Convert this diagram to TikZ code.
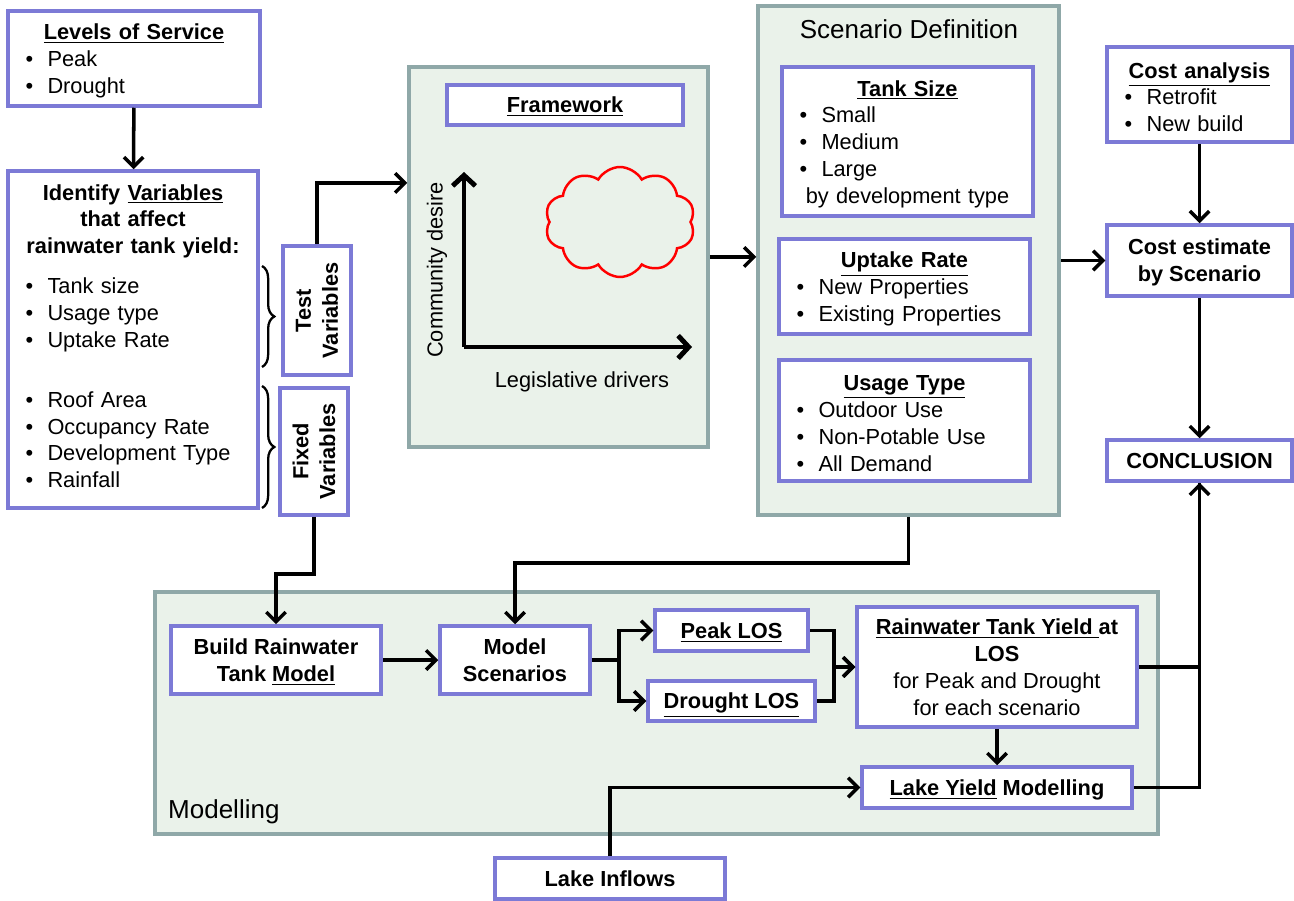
\documentclass[tikz,border=0pt]{standalone}
\usepackage{fontspec}
\setmainfont{Liberation Sans}
\usetikzlibrary{arrows.meta,shapes.symbols,decorations.pathreplacing,positioning}

\definecolor{boxline}{RGB}{124,122,214}
\definecolor{panelfill}{RGB}{234,242,234}
\definecolor{panelline}{RGB}{143,168,168}

\newcommand{\itm}[1]{\hspace*{10pt}\makebox[12.5pt][l]{\textbullet}#1}
\newcommand{\ctr}[1]{\makebox[\linewidth]{#1}}

\tikzset{
  wh/.style 2 args={minimum width=#1*0.02cm,minimum height=#2*0.02cm},
  frame/.style 2 args={draw=boxline,line width=2pt,fill=white,inner sep=0pt,wh={#1}{#2}},
  box/.style 2 args={frame={#1}{#2},text depth=0pt,align=center},
  lbox/.style 2 args={frame={#1}{#2},text height=12pt,text width=#1*0.02cm,align=left},
  panel/.style 2 args={draw=panelline,fill=panelfill,line width=2pt,inner sep=0pt,wh={#1}{#2}},
  flow/.style={-{Straight Barb[length=5.5pt,width=11pt]},line width=2pt},
  link/.style={line width=2pt}
}

\begin{document}
\begin{tikzpicture}[x=0.02cm,y=-0.02cm,font=\fontsize{12.4}{15.3}\selectfont]
\useasboundingbox (0,0) rectangle (1294,901);

\node[panel={299}{380}] (fwc) at (558.5,257) {};
\node[panel={301}{509}] (scd) at (908.5,260.5) {};
\node[panel={1003}{242}] (modp) at (656.5,713) {};

\node[lbox={252}{95}] (los) at (134,58.5)
  {\ctr{\textbf{\underline{Levels of Service}}}\\ \itm{Peak}\\ \itm{Drought}};
\node[lbox={250}{337},text height=5.2pt] (var) at (133,339.5)
  {\ctr{\textbf{Identify \underline{Variables}}}\\ \ctr{\textbf{that affect}}\\
   \ctr{\textbf{rainwater tank yield:}}\\[7.4pt]
   \itm{Tank size}\\ \itm{Usage type}\\ \itm{Uptake Rate}\\[18.7pt]
   \itm{Roof Area}\\ \itm{Occupancy Rate}\\ \itm{Development Type}\\ \itm{Rainfall}};
\node[box={68}{129}] (testv) at (317,310.5) {};
\node[rotate=90,align=center,font=\fontsize{12.4}{15.3}\selectfont\bfseries] at (testv) {Test\\Variables};
\node[box={68}{127}] (fixv) at (314,451.5) {};
\node[rotate=90,align=center,font=\fontsize{12.4}{15.3}\selectfont\bfseries] at (fixv) {Fixed\\Variables};
\draw[line width=1.3pt,decorate,decoration={brace,amplitude=7pt}] (262,266) -- (262,367);
\draw[line width=1.3pt,decorate,decoration={brace,amplitude=7pt}] (262,386) -- (262,508);

\node[box={236}{40}] (fw) at (565,105) {\textbf{\underline{Framework}}};
\node[cloud,cloud puffs=10,cloud puff arc=120,aspect=1.4,draw=red,line width=1.4pt,
  inner sep=0pt,wh={150}{110}] (idea) at (620,222) {};
\coordinate (orig) at (464,347);
\draw[-{Straight Barb[length=6pt,width=13pt]},line width=2.8pt] (orig) -- (464,172);
\draw[-{Straight Barb[length=6pt,width=13pt]},line width=2.8pt] (orig) -- (692,347);
\node[rotate=90] (cdes) at (437,270) {Community desire};
\node (legd) at (582,382) {Legislative drivers};

\node[font=\fontsize{14.8}{18}\selectfont] (scdt) at (909,29) {Scenario Definition};
\node[lbox={251}{149}] (tank) at (907.5,141.5)
  {\ctr{\textbf{\underline{Tank Size}}}\\ \itm{Small}\\ \itm{Medium}\\ \itm{Large}\\
   \ctr{by development type}};
\node[lbox={251}{95}] (upt) at (904.5,286.5)
  {\ctr{\textbf{\underline{Uptake Rate}}}\\ \itm{New Properties}\\ \itm{Existing Properties}};
\node[lbox={251}{121}] (use) at (904.5,420.5)
  {\ctr{\textbf{\underline{Usage Type}}}\\ \itm{Outdoor Use}\\ \itm{Non-Potable Use}\\ \itm{All Demand}};

\node[lbox={185}{95}] (costa) at (1199.5,94.5)
  {\ctr{\textbf{\underline{Cost analysis}}}\\ \itm{Retrofit}\\ \itm{New build}};
\node[box={185}{71}] (coste) at (1199.5,260.5) {\textbf{Cost estimate}\\ \textbf{by Scenario}};
\node[box={185}{41}] (concl) at (1199.5,460.5) {\textbf{CONCLUSION}};

\node[box={210}{68}] (build) at (276,660) {\textbf{Build Rainwater}\\ \textbf{Tank \underline{Model}}};
\node[box={150}{68}] (ms) at (515,660) {\textbf{Model}\\ \textbf{Scenarios}};
\node[box={153}{41}] (peak) at (731.5,630.5) {\textbf{\underline{Peak LOS}}};
\node[box={167}{40}] (drought) at (731.5,701) {\textbf{\underline{Drought LOS}}};
\node[box={280}{120}] (rty) at (997,667)
  {\textbf{\underline{Rainwater Tank Yield }at}\\ \textbf{LOS}\\ for Peak and Drought\\ for each scenario};
\node[box={270}{41}] (lake) at (997,787.5) {\textbf{\underline{Lake Yield} Modelling}};
\node[box={230}{41}] (inflow) at (610,878.5) {\textbf{Lake Inflows}};
\node[anchor=west,font=\fontsize{14.8}{18}\selectfont] (modt) at (162,812) {Modelling};

\draw[flow] (los) -- (var);
\draw[flow] (testv.north) |- (fwc.west |- 0,183);
\draw[flow] (fwc.east) -- (fwc.east -| scd.west);
\draw[flow] (scd.east) -- (coste.west);
\draw[flow] (costa) -- (coste);
\draw[flow] (coste) -- (concl);
\draw[flow] (fixv.south) -- ++(0,57) -| (build.north);
\draw[flow] (scd.south) -- ++(0,46) -| (ms.north);
\draw[flow] (build) -- (ms);
\draw[flow] (ms.east) -- ++(27,0) |- (peak.west);
\draw[flow] (ms.east) -- ++(27,0) |- (drought.west);
\draw[flow] (peak.east) -- ++(24,0) |- (rty.west);
\draw[flow] (drought.east) -- ++(17,0) |- (rty.west);
\draw[flow] (rty) -- (lake);
\draw[flow] (inflow.north) |- (lake.west);
\draw[link] (rty.east) -| (concl.south);
\draw[flow] (lake.east) -| (concl.south);
\end{tikzpicture}
\end{document}
